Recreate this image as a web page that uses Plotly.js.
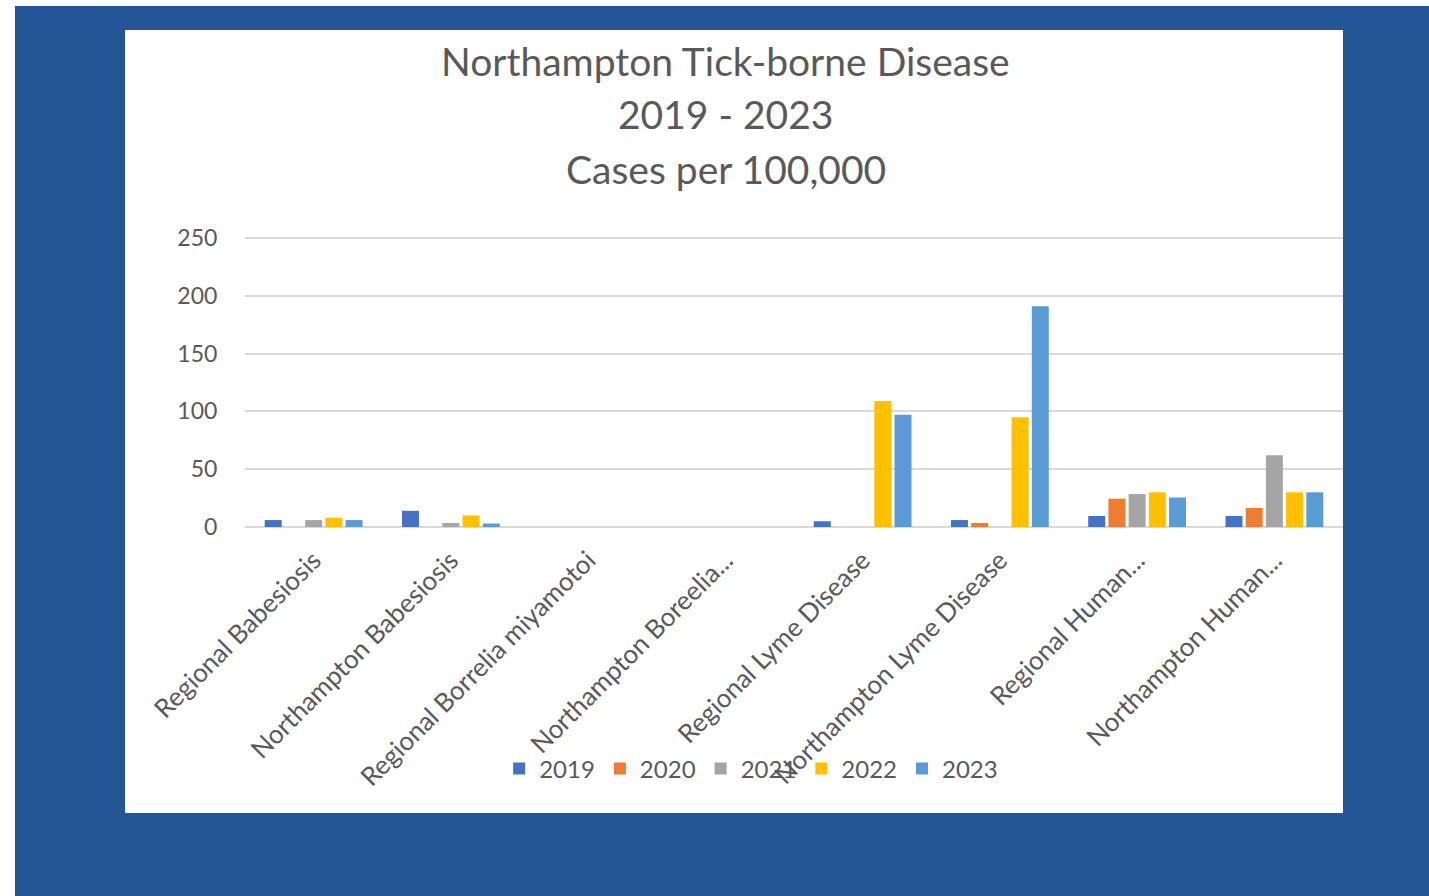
<!DOCTYPE html>
<html>
<head>
<meta charset="utf-8">
<script src="https://cdn.plot.ly/plotly-3.0.1.min.js"></script>
<style>
  html, body { margin: 0; padding: 0; background: #ffffff; width: 1429px; height: 896px; overflow: hidden; }
  #frame { position: absolute; left: 15px; top: 6px; width: 1414px; height: 890px; background: #245597; }
  #chart { position: absolute; left: 125px; top: 30px; width: 1218px; height: 783px; background: #ffffff; }
</style>
</head>
<body>
<div id="frame"></div>
<div id="chart"></div>
<script>
// Tick-borne disease rates, cases per 100,000
const categories = [
  'Regional Babesiosis',
  'Northampton Babesiosis',
  'Regional Borrelia miyamotoi',
  'Northampton Boreelia...',
  'Regional Lyme Disease',
  'Northampton Lyme Disease',
  'Regional Human...',
  'Northampton Human...'
];
const years = ['2019', '2020', '2021', '2022', '2023'];
const cases2019 = [6, 14, 0, 0, 5, 6, 9.5, 9.5];
const cases2020 = [0, 0, 0, 0, 0, 3.5, 24.5, 16.5];
const cases2021 = [6, 3.5, 0, 0, 0, 0, 28.5, 62];
const cases2022 = [8, 10, 0, 0, 109, 95, 30, 30];
const cases2023 = [6, 3, 0, 0, 97, 191, 25.5, 30];
const yTicks = [0, 50, 100, 150, 200, 250];

const seriesValues = [cases2019, cases2020, cases2021, cases2022, cases2023];
const seriesColors = ['#4472C4', '#ED7D31', '#A5A5A5', '#FFC000', '#5B9BD5'];

const FONT = 'Lato, "Open Sans", sans-serif';
const GREY = '#595959';
const GRID = '#d9d9d9';
const yMax = yTicks[yTicks.length - 1];

const traces = years.map((yr, i) => ({
  type: 'bar',
  name: yr,
  x: categories,
  y: seriesValues[i],
  marker: { color: seriesColors[i] },
  hoverinfo: 'x+y+name'
}));

const titleLines = ['Northampton Tick-borne Disease', '2019 - 2023', 'Cases per 100,000'];
const titleOffsets = [177, 124, 69];   // px above the top of the plot area

const layout = {
  width: 1218,
  height: 783,
  paper_bgcolor: '#ffffff',
  plot_bgcolor: '#ffffff',
  margin: { l: 120, r: 0, t: 208, b: 286, pad: 0 },
  barmode: 'group',
  bargap: 0.264,
  bargroupgap: 0.16,
  font: { family: FONT, color: GREY },
  showlegend: true,
  legend: {
    orientation: 'h',
    x: 0.461, xanchor: 'center',
    y: -0.837, yanchor: 'middle',
    font: { family: FONT, size: 24, color: GREY },
    bgcolor: 'rgba(0,0,0,0)',
    itemwidth: 30,
    traceorder: 'normal'
  },
  xaxis: {
    type: 'category',
    tickangle: -45,
    tickfont: { family: FONT, size: 26, color: GREY },
    ticklabelstandoff: 12,
    showgrid: false,
    showline: false,
    zeroline: false,
    ticks: '',
    automargin: false
  },
  yaxis: {
    range: [0, yMax],
    tickvals: yTicks,
    ticktext: yTicks.map(String),
    tickfont: { family: FONT, size: 23, color: GREY },
    showgrid: true,
    gridcolor: GRID,
    gridwidth: 2,
    zeroline: true,
    zerolinecolor: GRID,
    zerolinewidth: 2,
    showline: false,
    ticks: 'outside',
    ticklen: 22,
    tickcolor: 'rgba(0,0,0,0)',
    automargin: false
  },
  shapes: [
    // top gridline sits on the plot edge, so draw it explicitly (paper ref keeps it unclipped)
    { type: 'line', layer: 'below', xref: 'paper', yref: 'paper', x0: 0, x1: 1, y0: 1, y1: 1, line: { color: GRID, width: 2 } }
  ],
  annotations: titleLines.map((t, i) => ({
    text: t, xref: 'paper', yref: 'paper',
    x: 0.438, y: 1.0 + titleOffsets[i] / 289,
    xanchor: 'center', yanchor: 'middle', showarrow: false,
    font: { family: FONT, size: 39, color: GREY }
  }))
};

Plotly.newPlot('chart', traces, layout, { displayModeBar: false, responsive: false });
</script>
</body>
</html>
